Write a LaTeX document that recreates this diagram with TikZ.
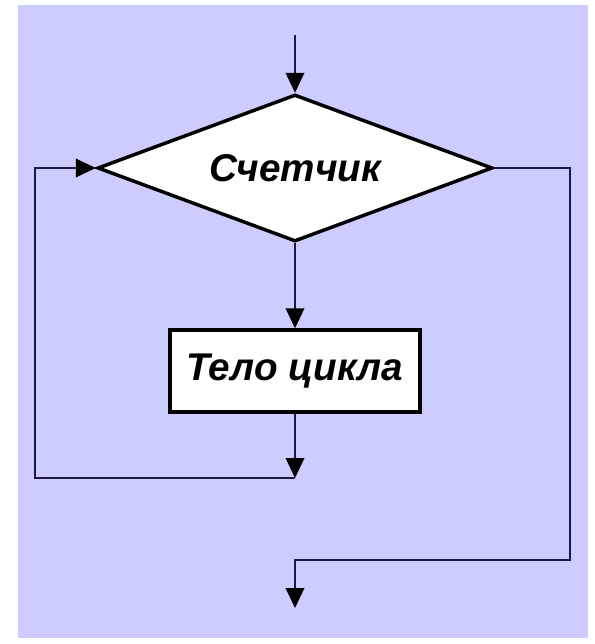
\documentclass[tikz,border=0pt]{standalone}
\usepackage{fontspec}
\setmainfont{Liberation Sans}
\usetikzlibrary{shapes.geometric,arrows.meta}
\definecolor{bgc}{HTML}{CCCCFF}
\definecolor{linec}{HTML}{1A1A40}
\begin{document}
\begin{tikzpicture}[x=0.75pt,y=-0.75pt,
  blockbox/.style={draw=black,line width=2.6pt,fill=white,inner sep=0pt,
    font=\fontsize{29}{33}\selectfont\bfseries\itshape},
  conn/.style={draw=linec,line width=1.1pt},
  arr/.style={conn,-{Triangle[width=14pt,length=15pt,color=black]}}]
\useasboundingbox (0,0) rectangle (594,644);
\fill[bgc] (18,5) rectangle (588,638);
\node[blockbox,diamond,minimum width=395*0.75pt,minimum height=147*0.75pt,aspect=2.69] (cnt) at (295,168) {Счетчик};
\node[blockbox,rectangle,minimum width=250*0.75pt,minimum height=82*0.75pt] (body) at (295,371) {Тело цикла};
\coordinate (start) at (295,35);
\coordinate (join) at (295,478);
\coordinate (ll) at (35,478);
\coordinate (lu) at (35,168);
\coordinate (ru) at (570,168);
\coordinate (rd) at (570,560);
\coordinate (md) at (295,560);
\coordinate (fin) at (295,608);
\draw[arr] (start) -- (cnt.north);
\draw[arr] (cnt.south) -- (body.north);
\draw[arr] (body.south) -- (join);
\draw[arr] (join) -- (ll) -- (lu) -- (cnt.west);
\draw[arr] (cnt.east) -- (ru) -- (rd) -- (md) -- (fin);
\end{tikzpicture}
\end{document}
